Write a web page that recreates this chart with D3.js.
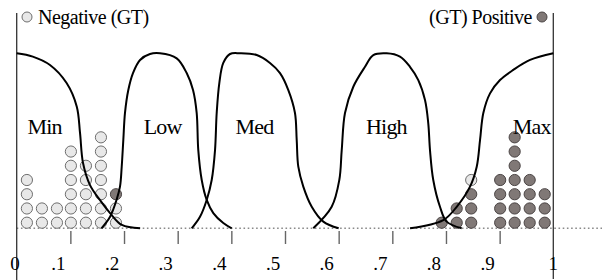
<!DOCTYPE html>
<html>
<head>
<meta charset="utf-8">
<script src="https://cdn.jsdelivr.net/npm/d3@7/dist/d3.min.js"></script>
<style>
  html, body { margin: 0; padding: 0; background: #fff; }
  svg { display: block; }
  svg text { font-family: "Liberation Serif", "Times New Roman", Times, serif; fill: #000; }
</style>
</head>
<body>
<svg id="chart" width="606" height="280"></svg>
<script>
// ---------- data ----------
const tickValues = [0, 0.1, 0.2, 0.3, 0.4, 0.5, 0.6, 0.7, 0.8, 0.9, 1];
const tickLabels = ["0", ".1", ".2", ".3", ".4", ".5", ".6", ".7", ".8", ".9", "1"];

const setNames = ["Min", "Low", "Med", "High", "Max"];
const setLabelX = [0.052, 0.272, 0.443, 0.689, 0.960];

// membership curves: [x, membership]
const minCurve = [[0,1],[0.030,0.981],[0.062,0.933],[0.093,0.830],[0.112,0.695],[0.118,0.545],
  [0.1236,0.373],[0.1366,0.247],[0.155,0.162],[0.174,0.087],[0.196,0.019],[0.230,0]];
const lowCurve = [[0.158,0],[0.174,0.066],[0.186,0.162],[0.1925,0.238],[0.1957,0.352],[0.1987,0.505],
  [0.2018,0.659],[0.208,0.790],[0.2167,0.887],[0.2299,0.962],[0.2484,0.996],[0.2671,1.0],
  [0.2982,0.971],[0.3168,0.887],[0.3286,0.790],[0.3354,0.659],[0.3384,0.447],[0.3448,0.276],
  [0.3541,0.162],[0.3664,0.087],[0.385,0.030],[0.4007,0]];
const medCurve = [[0.3261,0],[0.3416,0.066],[0.3541,0.162],[0.3634,0.276],[0.3696,0.447],[0.3727,0.659],
  [0.3776,0.830],[0.385,0.945],[0.3975,0.996],[0.4161,1.0],[0.4473,0.990],[0.472,0.945],
  [0.4907,0.887],[0.5062,0.790],[0.5186,0.659],[0.5218,0.505],[0.5248,0.352],[0.5341,0.238],
  [0.5498,0.123],[0.5714,0.038],[0.600,0]];
const highCurve = [[0.5527,0],[0.587,0.123],[0.6012,0.276],[0.6057,0.447],[0.6118,0.659],[0.6273,0.809],
  [0.6491,0.923],[0.6646,0.990],[0.6895,1.0],[0.7143,0.981],[0.7329,0.923],[0.7484,0.847],
  [0.7609,0.733],[0.767,0.6],[0.7702,0.447],[0.7763,0.276],[0.7888,0.123],[0.8013,0.038],[0.8293,0]];
const maxCurve = [[0.733,0],[0.795,0.047],[0.820,0.123],[0.8448,0.238],[0.8573,0.352],[0.8635,0.505],
  [0.8696,0.659],[0.8821,0.771],[0.9007,0.847],[0.9255,0.905],[0.9567,0.962],[1.0,1.0]];
const curves = [minCurve, lowCurve, medCurve, highCurve, maxCurve];

// dot histogram: bin centres and counts per class
const binCenters = [0.019, 0.047, 0.075, 0.101, 0.129, 0.157, 0.185,
                    0.792, 0.820, 0.847, 0.901, 0.928, 0.956, 0.984];
const negCounts  = [4, 2, 2, 6, 5, 7, 2, 0, 0, 1, 0, 0, 0, 0];
const posCounts  = [0, 0, 0, 0, 0, 0, 1, 1, 2, 3, 4, 7, 4, 3];

const legendLabels = ["Negative (GT)", "(GT) Positive"];

// ---------- drawing ----------
const FONT = "'Liberation Serif', 'Times New Roman', Times, serif";
const svg = d3.select("#chart");
const W = 606, H = 280;
const x = d3.scaleLinear().domain([0, 1]).range([16.7, 553.3]);
const y = d3.scaleLinear().domain([0, 1]).range([228.3, 53.3]);
const yStack = d3.scaleLinear().domain([0, 1]).range([222.7, 208.47]);

const negFill = "#e8e8e8", negStroke = "#6e6e6e";
const posFill = "#807876", posStroke = "#4a4444";

svg.append("rect").attr("width", W).attr("height", H).attr("fill", "#fff");

// dotted baseline
svg.append("line")
  .attr("x1", 16.7).attr("x2", 602)
  .attr("y1", y(0)).attr("y2", y(0))
  .attr("stroke", "#8a8a8a").attr("stroke-width", 1.4)
  .attr("stroke-dasharray", "1.6,2.6");

// vertical axis lines
svg.append("line").attr("x1", x(0)).attr("x2", x(0)).attr("y1", 13).attr("y2", 280)
  .attr("stroke", "#333").attr("stroke-width", 1.3);
svg.append("line").attr("x1", x(1)).attr("x2", x(1)).attr("y1", 13).attr("y2", 279)
  .attr("stroke", "#333").attr("stroke-width", 1.3);

// ticks (d3 axis for tick marks)
const axis = d3.axisBottom(x).tickValues(tickValues.slice(1, -1)).tickSize(13).tickFormat("");
const axG = svg.append("g").attr("transform", `translate(0,${231})`).call(axis);
axG.select(".domain").remove();
axG.selectAll(".tick line").attr("stroke", "#666").attr("stroke-width", 1.4);

// tick labels
svg.append("g").selectAll("text").data(tickValues).join("text")
  .attr("x", (d, i) => x(d) + ((i === 0) ? -1.7 : (i === tickValues.length - 1 ? 0 : -12)))
  .attr("y", 270)
  .attr("text-anchor", "middle")
  .attr("font-family", FONT)
  .attr("font-size", 19)
  .text((d, i) => tickLabels[i]);

// dots
const dots = [];
binCenters.forEach((c, i) => {
  const n = negCounts[i], p = posCounts[i];
  const order = n >= p ? [["neg", n], ["pos", p]] : [["pos", p], ["neg", n]];
  let k = 0;
  order.forEach(([cls, cnt]) => {
    for (let j = 0; j < cnt; j++) { dots.push({ c, k, cls }); k++; }
  });
});
svg.append("g").selectAll("circle").data(dots).join("circle")
  .attr("cx", d => x(d.c))
  .attr("cy", d => yStack(d.k))
  .attr("r", 5.6)
  .attr("fill", d => d.cls === "neg" ? negFill : posFill)
  .attr("stroke", d => d.cls === "neg" ? negStroke : posStroke)
  .attr("stroke-width", 1);

// membership curves
const line = d3.line().x(d => x(d[0])).y(d => y(d[1])).curve(d3.curveCatmullRom.alpha(0.5));
svg.append("g").selectAll("path").data(curves).join("path")
  .attr("d", line)
  .attr("fill", "none")
  .attr("stroke", "#000")
  .attr("stroke-width", 2);

// set labels
svg.append("g").selectAll("text").data(setNames).join("text")
  .attr("x", (d, i) => x(setLabelX[i]))
  .attr("y", 134)
  .attr("text-anchor", "middle")
  .attr("font-family", FONT)
  .attr("font-size", 22)
  .attr("letter-spacing", -0.8)
  .text(d => d);

// legend
svg.append("circle").attr("cx", 27).attr("cy", 17).attr("r", 5)
  .attr("fill", negFill).attr("stroke", negStroke).attr("stroke-width", 1);
svg.append("text").attr("x", 38).attr("y", 24).attr("font-size", 20)
  .attr("font-family", FONT)
  .attr("letter-spacing", -0.5).text(legendLabels[0]);
svg.append("circle").attr("cx", 542).attr("cy", 17).attr("r", 5)
  .attr("fill", posFill).attr("stroke", posStroke).attr("stroke-width", 1);
svg.append("text").attr("x", 532).attr("y", 24).attr("font-size", 20)
  .attr("font-family", FONT)
  .attr("text-anchor", "end").attr("letter-spacing", -0.5).text(legendLabels[1]);
</script>
</body>
</html>
